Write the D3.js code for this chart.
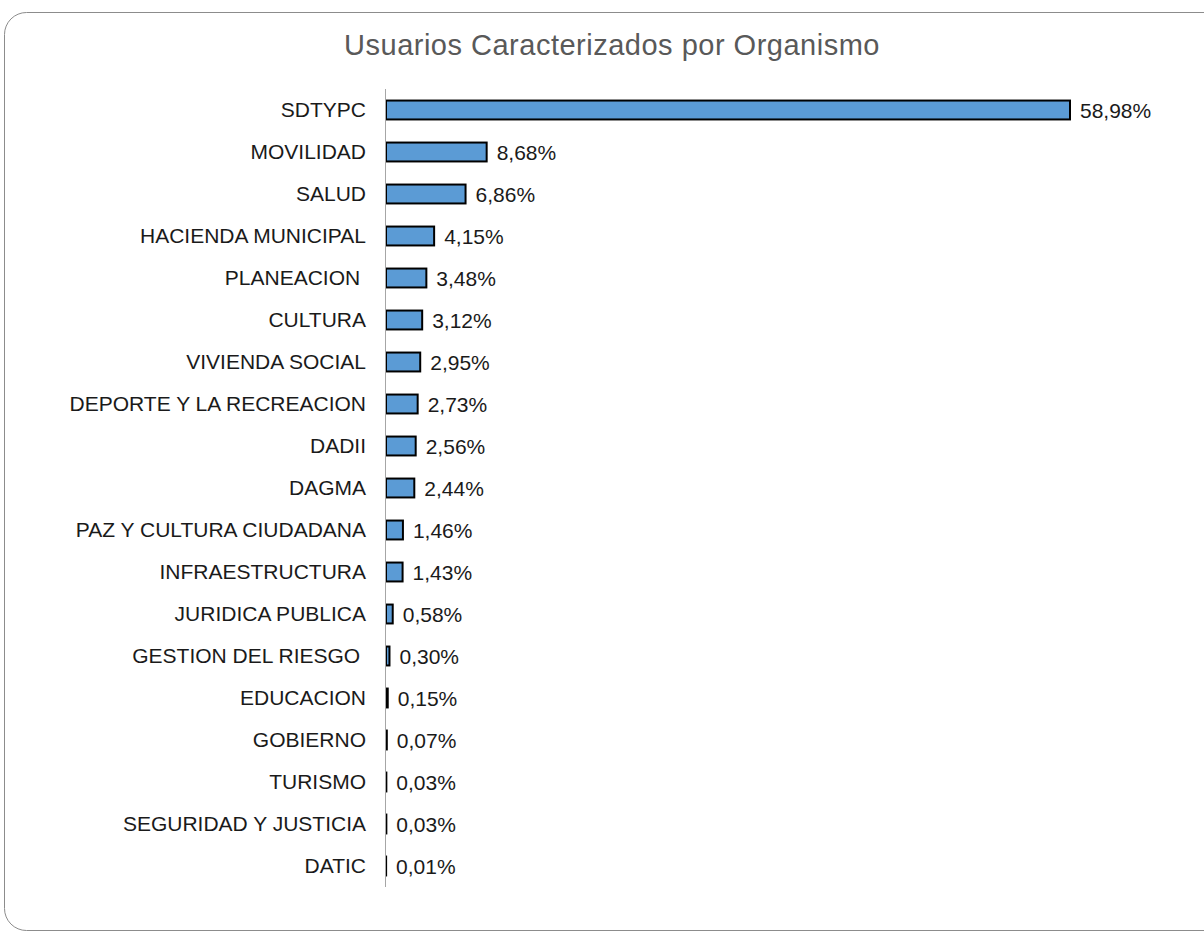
<!DOCTYPE html>
<html>
<head>
<meta charset="utf-8">
<script src="https://cdn.jsdelivr.net/npm/d3@7"></script>
<style>
  body { margin: 0; background: #fff; }
  text { font-family: "Liberation Sans", Arial, sans-serif; white-space: pre; }
</style>
</head>
<body>
<div id="chart"></div>
<script>
const organismos = [
    "SDTYPC", "MOVILIDAD", "SALUD", "HACIENDA MUNICIPAL", "PLANEACION ",
    "CULTURA", "VIVIENDA SOCIAL", "DEPORTE Y LA RECREACION", "DADII", "DAGMA",
    "PAZ Y CULTURA CIUDADANA", "INFRAESTRUCTURA", "JURIDICA PUBLICA",
    "GESTION DEL RIESGO ", "EDUCACION", "GOBIERNO", "TURISMO",
    "SEGURIDAD Y JUSTICIA", "DATIC"
];
const porcentajes = [
    58.98, 8.68, 6.86, 4.15, 3.48, 3.12, 2.95, 2.73, 2.56, 2.44,
    1.46, 1.43, 0.58, 0.30, 0.15, 0.07, 0.03, 0.03, 0.01
];
const titulo = "Usuarios Caracterizados por Organismo";

function main() {
    const width = 1204;
    const height = 932;

    const svg = d3.select("#chart").append("svg")
        .attr("width", width)
        .attr("height", height)

    // marco redondeado (se sale por la derecha)
    svg.append("rect")
        .attr("x", 4.5).attr("y", 12.5)
        .attr("width", 1240).attr("height", 918)
        .attr("rx", 22).attr("ry", 22)
        .attr("fill", "#fff")
        .attr("stroke", "#8c8c8c")
        .attr("stroke-width", 1)

    svg.append("text")
        .attr("x", 612)
        .attr("y", 55)
        .attr("text-anchor", "middle")
        .attr("font-size", 29)
        .attr("letter-spacing", 0.5)
        .attr("fill", "#595959")
        .text(titulo)

    const data = organismos.map((d, i) => ({ name: d, value: porcentajes[i] }));

    const y = d3.scaleBand()
        .domain(organismos)
        .range([89, 887])
        .paddingInner(0.55)
        .paddingOuter(0.275)

    const x = d3.scaleLinear()
        .domain([0, 58.98])
        .range([385, 1069])

    const fmt = v => d3.format(".2f")(v).replace(".", ",") + "%";

    const g = svg.append("g")

    g.selectAll("rect.bar")
        .data(data)
        .enter().append("rect")
        .attr("class", "bar")
        .attr("x", x(0) + 1)
        .attr("y", d => y(d.name))
        .attr("width", d => x(d.value) - x(0))
        .attr("height", y.bandwidth())
        .attr("fill", "#5b9bd5")
        .attr("stroke", "#000")
        .attr("stroke-width", 2)

    g.selectAll("text.val")
        .data(data)
        .enter().append("text")
        .attr("class", "val")
        .attr("x", d => x(d.value) + 11)
        .attr("y", d => y(d.name) + y.bandwidth() / 2)
        .attr("dy", "0.36em")
        .attr("font-size", 21)
        .attr("fill", "#1a1a1a")
        .text(d => fmt(d.value))

    // eje vertical con etiquetas
    const axis = svg.append("g")
        .attr("transform", `translate(${x(0)},0)`)
        .call(d3.axisLeft(y).tickSize(0).tickPadding(19))

    axis.select(".domain")
        .attr("stroke", "#a6a6a6")
        .attr("d", `M0.5,${y.range()[0]}V${y.range()[1]}`)

    axis.selectAll("text")
        .attr("font-size", 21)
        .attr("font-family", "Liberation Sans, Arial, sans-serif")
        .attr("fill", "#1a1a1a")
}
main();
</script>
</body>
</html>
